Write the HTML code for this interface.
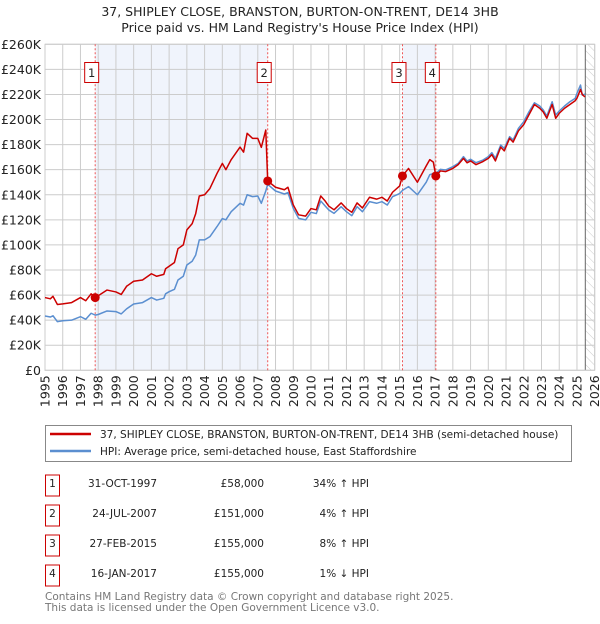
<!DOCTYPE html>
<html><head><meta charset="utf-8">
<style>
body{margin:0;background:#fff;font-family:"DejaVu Sans","Liberation Sans",sans-serif;}
svg text{font-family:"DejaVu Sans","Liberation Sans",sans-serif;}
</style></head><body>
<svg id="c" width="600" height="620" viewBox="0 0 600 620" xmlns="http://www.w3.org/2000/svg">
<defs><pattern id="hatch" width="6" height="6" patternUnits="userSpaceOnUse" patternTransform="rotate(-45)"><line x1="0" y1="0" x2="0" y2="6" stroke="#ccc" stroke-width="1"/></pattern></defs>
<text x="300" y="16" text-anchor="middle" font-size="12.5" fill="#222">37, SHIPLEY CLOSE, BRANSTON, BURTON-ON-TRENT, DE14 3HB</text>
<text x="300" y="32" text-anchor="middle" font-size="12.5" fill="#222">Price paid vs. HM Land Registry's House Price Index (HPI)</text>
<g id="plot"></g>
<g>
<rect x="45.5" y="425.5" width="526" height="36" fill="#fff" stroke="#888"/>
<line x1="50" y1="434" x2="91" y2="434" stroke="#cc0000" stroke-width="2.5"/>
<text x="100" y="438" font-size="10.5" fill="#222">37, SHIPLEY CLOSE, BRANSTON, BURTON-ON-TRENT, DE14 3HB (semi-detached house)</text>
<line x1="50" y1="451" x2="91" y2="451" stroke="#5b8fd0" stroke-width="2.5"/>
<text x="100" y="455" font-size="10.5" fill="#222">HPI: Average price, semi-detached house, East Staffordshire</text>
</g>
<g id="table" font-size="10.5" fill="#222"></g>
<text x="45" y="600" font-size="10.5" fill="#777">Contains HM Land Registry data © Crown copyright and database right 2025.</text>
<text x="45" y="611" font-size="10.5" fill="#777">This data is licensed under the Open Government Licence v3.0.</text>
</svg>
<script>
const times=[1995.0,1995.3,1995.45,1995.7,1996.0,1996.5,1997.0,1997.3,1997.6,1997.83,1998.0,1998.5,1999.0,1999.3,1999.6,2000.0,2000.5,2001.0,2001.3,2001.7,2001.8,2002.0,2002.3,2002.5,2002.8,2003.0,2003.3,2003.5,2003.7,2004.0,2004.3,2004.7,2005.0,2005.2,2005.5,2006.0,2006.2,2006.4,2006.7,2007.0,2007.2,2007.45,2007.56,2008.0,2008.5,2008.7,2009.0,2009.3,2009.7,2010.0,2010.3,2010.55,2010.8,2011.0,2011.3,2011.7,2012.0,2012.3,2012.6,2012.9,2013.3,2013.7,2014.0,2014.3,2014.6,2015.0,2015.16,2015.5,2016.0,2016.5,2016.7,2016.9,2017.04,2017.3,2017.6,2018.0,2018.3,2018.6,2018.8,2019.0,2019.3,2019.7,2020.0,2020.2,2020.4,2020.7,2020.9,2021.2,2021.4,2021.7,2022.0,2022.3,2022.6,2022.9,2023.1,2023.3,2023.6,2023.8,2024.0,2024.3,2024.6,2024.9,2025.0,2025.2,2025.3,2025.45];
const hpiValues=[43.3,42.5,43.5,38.8,39.5,40,42.8,40.7,45.5,44,44.5,47.3,46.8,45,49,52.9,54,58,56,57.4,61,62.7,64.6,72,75,84,87,92,104,104,106.6,114.6,121,120,126.5,133.2,131.8,140,138.5,139,133.2,143,148.3,143,140.6,141.7,129.2,121.2,120,126,125,135,131,127.9,125.2,130.5,126.5,123.3,130.5,126.5,134.5,133.2,134.5,131.8,138.5,141,143.5,146.5,140,150,156,157,157,160.3,159.8,162.4,165,170.4,166.9,168.3,165.6,167.7,170.4,173.6,169,179.7,177,186.3,183.7,193,198.3,206.3,213.4,210.8,207.6,202.8,214.2,203.6,206.8,210.8,214.2,216.9,220.9,227.5,219.5,220.3];
const priceValues=[58,57,59,52.5,53,54,58,55.5,61,58,59.5,64,62.5,60.5,67,71,72,77,75,76.5,81,83,86,97,100,112,117,125,139,140,145,157,165,160,168,178,174,189,185,185,177.8,191.6,151,146,144,146,132,124,123,129,128,139,135,131,128,133.5,129,126,133.5,129.5,138,136.5,138,135,142,147,155,161,150,163,168,166,155,159,158.5,161,164,169,165.5,167,164,166.5,169,172,167,178,175,185,182,191,196,204,212,209,206,201,212,201,205,209,212,215,217,224,220,218];
const saleTimes=[1997.83,2007.56,2015.16,2017.04];
const salePrices=[58,151,155,155];
const saleDates=["31-OCT-1997","24-JUL-2007","27-FEB-2015","16-JAN-2017"];
const salePriceLabels=["£58,000","£151,000","£155,000","£155,000"];
const saleHpiLabels=["34% ↑ HPI","4% ↑ HPI","8% ↑ HPI","1% ↓ HPI"];
const yTicks=[0,20,40,60,80,100,120,140,160,180,200,220,240,260];
const xTicks=[1995,1996,1997,1998,1999,2000,2001,2002,2003,2004,2005,2006,2007,2008,2009,2010,2011,2012,2013,2014,2015,2016,2017,2018,2019,2020,2021,2022,2023,2024,2025,2026];
const dataEnd=2025.47;

const X0=45,X1=594.7,Y0=370.3,Y1=44.3;
const xs=t=>X0+(t-1995)/(2026-1995)*(X1-X0);
const ys=v=>Y0-v/260*(Y0-Y1);
const NS="http://www.w3.org/2000/svg";
const plot=document.getElementById('plot');
function mk(tag,attrs,parent,txt){const e=document.createElementNS(NS,tag);for(const k in attrs)e.setAttribute(k,attrs[k]);if(txt!==undefined)e.textContent=txt;(parent||plot).appendChild(e);return e;}

for(let i=0;i<saleTimes.length;i+=2){
  const r=mk('rect',{x:xs(saleTimes[i]),y:Y1,width:xs(saleTimes[i+1])-xs(saleTimes[i]),height:Y0-Y1,fill:'#eef3fc',opacity:0.9});
  
  
}
const h=mk('rect',{x:xs(dataEnd),y:Y1,width:X1-xs(dataEnd),height:Y0-Y1,fill:'url(#hatch)'});


yTicks.forEach(v=>{
  const l=mk('line',{x1:X0,x2:X1,y1:ys(v),y2:ys(v),stroke:'#cccccc','stroke-width':1});
  
  
  const t=mk('text',{x:X0-4,y:ys(v)+4.5,'text-anchor':'end','font-size':12.5,fill:'#222'},plot,v===0?'£0':'£'+v+'K');
  
  
});
xTicks.forEach(yr=>{
  const l=mk('line',{x1:xs(yr),x2:xs(yr),y1:Y1,y2:Y0,stroke:'#cccccc','stroke-width':1});
  
  
  const t=mk('text',{x:0,y:0,'text-anchor':'end','font-size':12.5,fill:'#222',transform:`translate(${xs(yr)+4.5},${Y0+5}) rotate(-90)`},plot,String(yr));
  
  
});
const el=mk('line',{x1:xs(dataEnd),x2:xs(dataEnd),y1:Y1,y2:Y0,stroke:'#666','stroke-width':1});


const bd=mk('rect',{x:X0,y:Y1,width:X1-X0,height:Y0-Y1,fill:'none',stroke:'#cccccc'});


saleTimes.forEach((t,i)=>{
  const l=mk('line',{x1:xs(t),x2:xs(t),y1:Y1,y2:Y0,stroke:'#e55','stroke-width':1,'stroke-dasharray':'2,2'});
  
  
  const g=mk('g',{});
  
  
  mk('rect',{x:xs(t)-10.5,y:62.5,width:14,height:20,fill:'#fff',stroke:'#cc0000'},g);
  mk('text',{x:xs(t)-3.5,y:77,'text-anchor':'middle','font-size':11.5,fill:'#222'},g,String(i+1));
});
function path(vals){return vals.map((v,i)=>(i?'L':'M')+xs(times[i]).toFixed(2)+','+ys(v).toFixed(2)).join('');}
const hp=mk('path',{d:path(hpiValues),fill:'none',stroke:'#5b8fd0','stroke-width':1.5,'stroke-linejoin':'round'});


const pp=mk('path',{d:path(priceValues),fill:'none',stroke:'#cc0000','stroke-width':1.5,'stroke-linejoin':'round'});


saleTimes.forEach((t,i)=>{
  const c=mk('circle',{cx:xs(t),cy:ys(salePrices[i]),r:4.5,fill:'#cc0000'});
  
  
});
const tb=document.getElementById('table');
saleTimes.forEach((t,i)=>{
  const y=487+i*30;
  const g=mk('g',{},tb);
  
  
  mk('rect',{x:45.5,y:y-12,width:14,height:21,fill:'#fff',stroke:'#cc0000'},g);
  mk('text',{x:52.5,y:y,'text-anchor':'middle'},g,String(i+1));
  mk('text',{x:157,y:y,'text-anchor':'end'},g,saleDates[i]);
  mk('text',{x:264,y:y,'text-anchor':'end'},g,salePriceLabels[i]);
  mk('text',{x:369,y:y,'text-anchor':'end'},g,saleHpiLabels[i]);
});
</script>
</body></html>
